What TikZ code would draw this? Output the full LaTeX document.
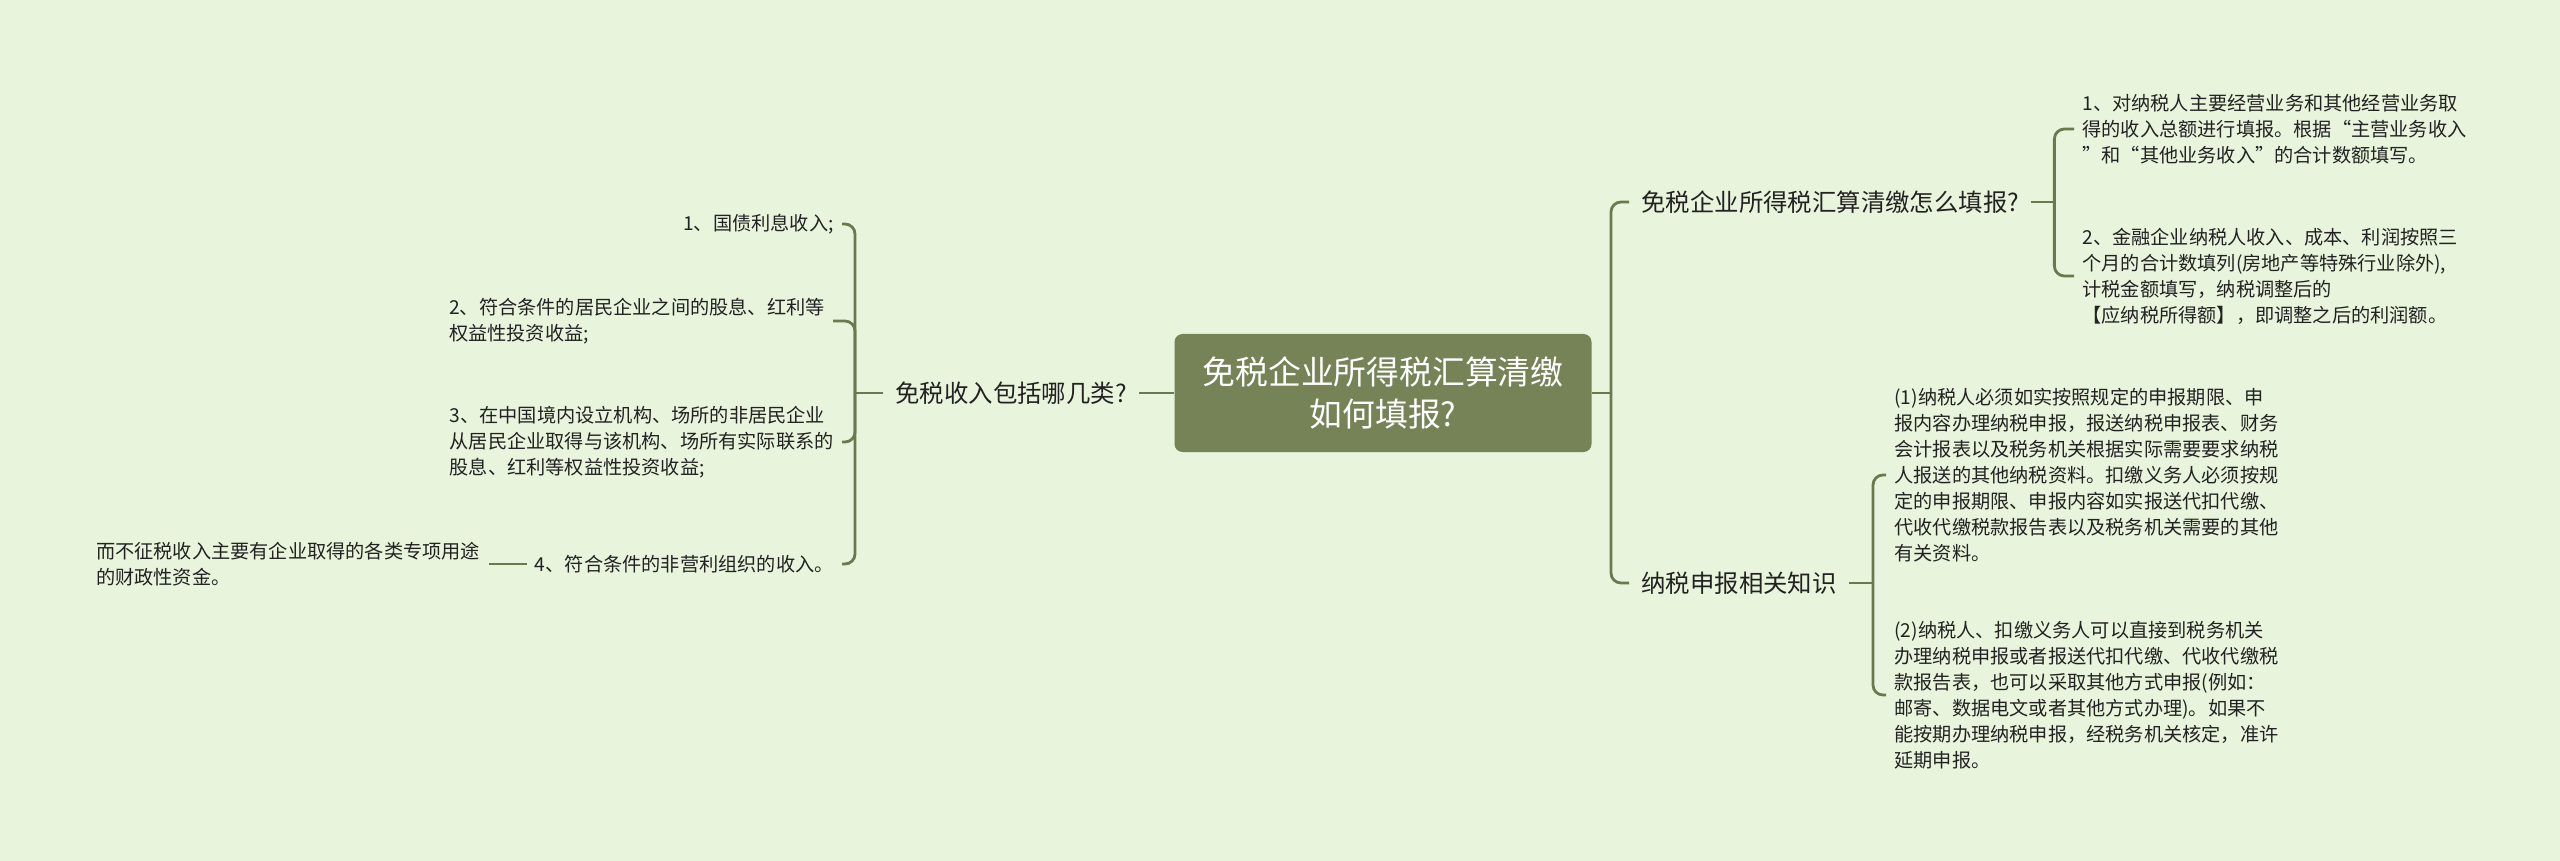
\documentclass[tikz,border=0pt]{standalone}
\usepackage{fontspec}
\setmainfont{Noto Sans CJK SC}
\usepackage{tikz}
\usetikzlibrary{positioning}
\definecolor{bgcol}{RGB}{232,245,220}
\definecolor{rootcol}{RGB}{117,131,86}
\definecolor{linkcol}{RGB}{108,120,78}
\definecolor{txtcol}{RGB}{34,34,34}

\begin{document}
\begin{tikzpicture}[
   x=0.5pt, y=-0.5pt,
   root/.style={fill=rootcol, rounded corners=4pt, text=white, align=center, font=\fontsize{16.4}{21}\selectfont, minimum width=208.5pt, minimum height=59pt, inner sep=0pt},
   topic/.style={text=txtcol, font=\fontsize{12.2}{15}\selectfont, inner xsep=6pt, inner ysep=2pt},
   leaf/.style={text=txtcol, align=left, font=\fontsize{9.6}{13}\selectfont, inner xsep=4pt, inner ysep=1pt},
   link/.style={draw=linkcol, line width=1.4pt, rounded corners=5pt}
]
\fill[bgcol] (0,0) rectangle (2560,861);
\useasboundingbox (0,0) rectangle (2560,861);

\node[root] (root) at (1383,393) {免税企业所得税汇算清缴\\如何填报?};

\coordinate (rj) at (1611,393);
\node[topic, anchor=west] (fill) at (1629,202) {免税企业所得税汇算清缴怎么填报?};
\node[topic, anchor=west] (know) at (1629,583) {纳税申报相关知识};
\coordinate[right=11.5pt of fill.east] (fj);
\coordinate[right=12pt of know.east] (kj);

\node[leaf, anchor=west] (f1) at (2074,129) {1、对纳税人主要经营业务和其他经营业务取\\得的收入总额进行填报。根据“主营业务收入\\”和“其他业务收入”的合计数额填写。};
\node[leaf, anchor=west] (f2) at (2074,276) {2、金融企业纳税人收入、成本、利润按照三\\个月的合计数填列(房地产等特殊行业除外),\\计税金额填写，纳税调整后的\\【应纳税所得额】，即调整之后的利润额。};
\node[leaf, anchor=west] (k1) at (1886,475) {(1)纳税人必须如实按照规定的申报期限、申\\报内容办理纳税申报，报送纳税申报表、财务\\会计报表以及税务机关根据实际需要要求纳税\\人报送的其他纳税资料。扣缴义务人必须按规\\定的申报期限、申报内容如实报送代扣代缴、\\代收代缴税款报告表以及税务机关需要的其他\\有关资料。};
\node[leaf, anchor=west] (k2) at (1886,695) {(2)纳税人、扣缴义务人可以直接到税务机关\\办理纳税申报或者报送代扣代缴、代收代缴税\\款报告表，也可以采取其他方式申报(例如：\\邮寄、数据电文或者其他方式办理)。如果不\\能按期办理纳税申报，经税务机关核定，准许\\延期申报。};

\node[topic, left=17.5pt of root] (kind) {免税收入包括哪几类?};
\coordinate (lj) at (855,393);
\node[leaf, anchor=east] (c1) at (842,224) {1、国债利息收入;};
\node[leaf, anchor=east] (c2) at (833,321) {2、符合条件的居民企业之间的股息、红利等\\权益性投资收益;};
\node[leaf, anchor=east] (c3) at (842,442) {3、在中国境内设立机构、场所的非居民企业\\从居民企业取得与该机构、场所有实际联系的\\股息、红利等权益性投资收益;};
\node[leaf, anchor=east] (c4) at (842,564) {4、符合条件的非营利组织的收入。};
\node[leaf, left=19pt of c4] (g4) {而不征税收入主要有企业取得的各类专项用途\\的财政性资金。};

\draw[link] (root.east) -- (rj);
\draw[link] (rj) |- (fill.west);
\draw[link] (rj) |- (know.west);
\draw[link] (fill.east) -- (fj);
\draw[link] (fj) |- (f1.west);
\draw[link] (fj) |- (f2.west);
\draw[link] (know.east) -- (kj);
\draw[link] (kj) |- (k1.west);
\draw[link] (kj) |- (k2.west);

\draw[link] (root.west) -- (kind.east);
\draw[link] (kind.west) -- (lj);
\foreach \c in {c1,c2,c3,c4}
  \draw[link] (lj) |- (\c.east);
\draw[link] (c4.west) -- (g4.east);
\end{tikzpicture}
\end{document}
